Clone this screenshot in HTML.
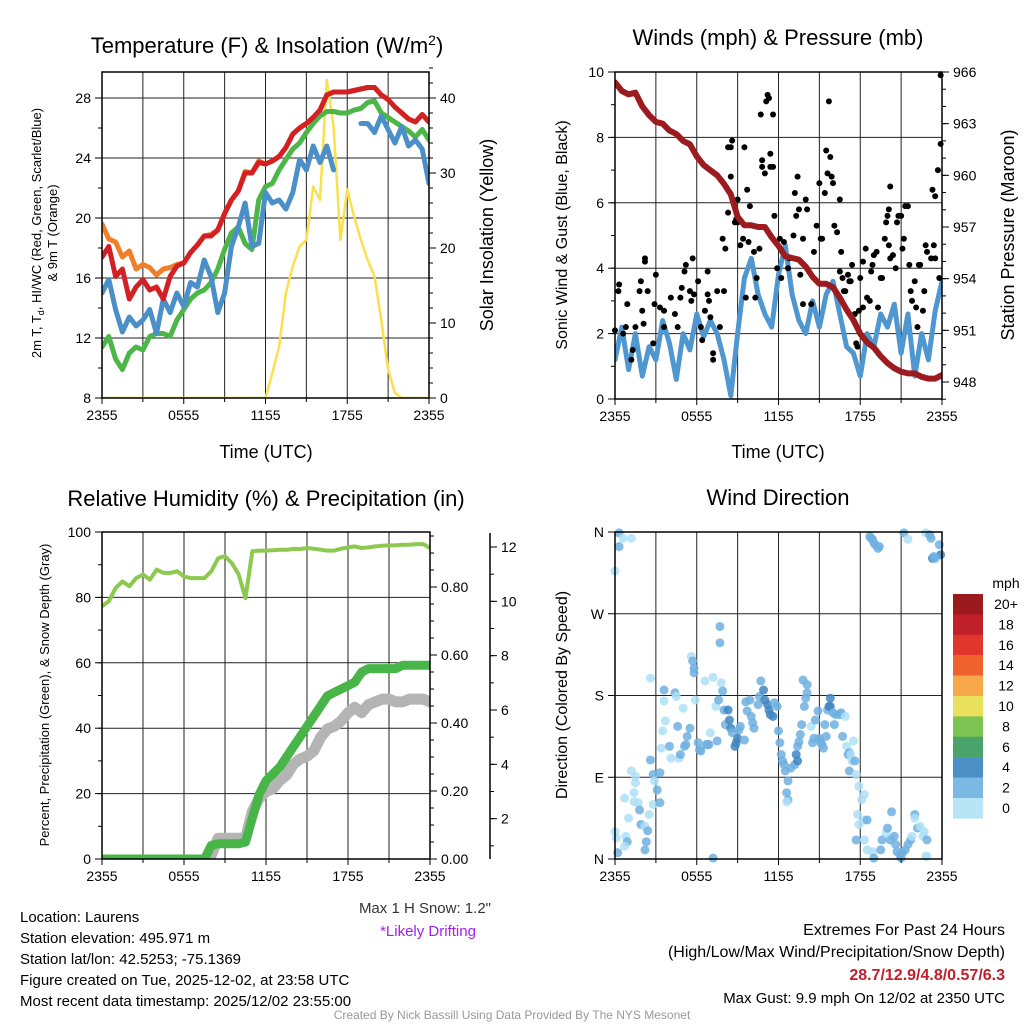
<!DOCTYPE html>
<html><head><meta charset="utf-8"><style>
html,body{margin:0;padding:0;background:#fff}
svg{display:block;font-family:"Liberation Sans",Arial,sans-serif}
</style></head><body>
<svg id="fig" width="1024" height="1024" viewBox="0 0 1024 1024" xmlns="http://www.w3.org/2000/svg">
<rect width="1024" height="1024" fill="#fff"/>
<text x="267" y="53" font-size="22" text-anchor="middle">Temperature (F) &amp; Insolation (W/m<tspan dy="-8" font-size="14">2</tspan><tspan dy="8">)</tspan></text>
<text x="778" y="45" font-size="22" text-anchor="middle">Winds (mph) &amp; Pressure (mb)</text>
<text x="266" y="506" font-size="22" text-anchor="middle">Relative Humidity (%) &amp; Precipitation (in)</text>
<text x="778" y="505" font-size="22" text-anchor="middle">Wind Direction</text>
<text x="266" y="458" font-size="18" text-anchor="middle">Time (UTC)</text>
<text x="778" y="458" font-size="18" text-anchor="middle">Time (UTC)</text>
<text transform="translate(41,233) rotate(-90)" font-size="13" text-anchor="middle">2m T, T<tspan dy="3" font-size="9">d</tspan><tspan dy="-3">, HI/WC (Red, Green, Scarlet/Blue)</tspan></text>
<text transform="translate(57,233) rotate(-90)" font-size="13" text-anchor="middle">&amp; 9m T (Orange)</text>
<text transform="translate(493,235) rotate(-90)" font-size="18" text-anchor="middle">Solar Insolation (Yellow)</text>
<text transform="translate(567,235) rotate(-90)" font-size="16" text-anchor="middle">Sonic Wind &amp; Gust (Blue, Black)</text>
<text transform="translate(1014,235) rotate(-90)" font-size="18" text-anchor="middle">Station Pressure (Maroon)</text>
<text transform="translate(49,695) rotate(-90)" font-size="13" text-anchor="middle">Percent, Precipitation (Green), &amp; Snow Depth (Gray)</text>
<text transform="translate(567,695) rotate(-90)" font-size="16" text-anchor="middle">Direction (Colored By Speed)</text>
<g font-size="15">
<text x="20" y="922">Location: Laurens</text>
<text x="20" y="943">Station elevation: 495.971 m</text>
<text x="20" y="964">Station lat/lon: 42.5253; -75.1369</text>
<text x="20" y="985">Figure created on Tue, 2025-12-02, at 23:58 UTC</text>
<text x="20" y="1006">Most recent data timestamp: 2025/12/02 23:55:00</text>
</g>
<text x="491" y="913" font-size="15" fill="#333" text-anchor="end">Max 1 H Snow: 1.2"</text>
<text x="428" y="936" font-size="15" fill="#a020f0" text-anchor="middle">*Likely Drifting</text>
<g font-size="16" text-anchor="end">
<text x="1005" y="935">Extremes For Past 24 Hours</text>
<text x="1005" y="957">(High/Low/Max Wind/Precipitation/Snow Depth)</text>
<text x="1005" y="980" font-weight="bold" fill="#c0202a">28.7/12.9/4.8/0.57/6.3</text>
<text x="1005" y="1003" font-size="15">Max Gust: 9.9 mph On 12/02 at 2350 UTC</text>
</g>
<text x="512" y="1019" font-size="12" fill="#999" text-anchor="middle">Created By Nick Bassill Using Data Provided By The NYS Mesonet</text>
</svg>
<script>
const timeTickHours = [0, 6, 12, 18, 24];
const timeTickLabels = ["2355", "0555", "1155", "1755", "2355"];
const halfHours = Array.from({length: 49}, (_, i) => i * 0.5);

const temp2m = [17.4,18.1,16.1,16.6,14.6,15.4,15.9,15.2,15.4,14.6,16.1,16.8,17.0,17.7,18.2,18.8,18.8,19.2,20.3,21.2,21.8,23.0,23.0,23.7,23.6,23.8,24.1,24.7,25.6,26.0,26.3,26.7,27.2,28.2,28.4,28.4,28.4,28.5,28.6,28.7,28.7,28.2,27.9,27.4,27.0,26.6,26.4,26.9,26.4];
const temp9m = [19.6,18.6,18.4,17.4,17.8,16.6,16.9,16.7,16.2,16.6,16.7,16.9,17.0,17.7,18.2,18.8,18.9,19.2,20.3,21.2,21.8,23.1,23.0,23.8,23.6,23.8,24.1,24.7,25.6,26.0,26.3,26.7,27.2,28.2,28.4,28.4,28.4,28.5,28.6,28.7,28.7,28.2,27.9,27.4,27.0,26.6,26.4,26.9,26.4];
const dewpoint = [11.4,12.1,10.6,9.9,11.0,11.4,11.2,12.1,12.3,12.3,12.1,13.2,13.9,14.6,15.0,15.2,15.7,16.6,17.9,19.0,19.4,18.3,17.9,21.2,22.1,22.3,23.2,23.9,24.6,25.0,25.7,26.3,26.8,27.1,27.1,27.0,27.0,27.2,27.3,27.7,27.8,27.0,26.7,26.4,26.1,25.8,25.4,25.9,25.2];
const windChill = [15.0,15.9,13.9,12.4,13.4,12.8,13.2,13.9,12.3,14.6,13.7,15.0,14.1,15.7,15.4,17.2,16.1,13.7,15.0,18.1,19.4,21.0,18.1,18.3,21.7,21.0,21.2,20.6,21.7,23.9,23.2,24.8,23.7,24.8,23.2,null,null,null,26.3,26.3,25.7,26.8,25.9,25.0,26.1,24.8,25.2,24.6,22.3];
const insolation = [0,0,0,0,0,0,0,0,0,0,0,0,0,0,0,0,0,0,0,0,0,0,0,0,0,3.3,6.9,14.0,17.6,20.2,21.1,28.2,26.4,42.4,36.2,21.1,27.8,24.2,21.1,18.4,16.2,10.4,3.8,0.7,0,0,0,0,0];

const windSpeed = [1.2,2.2,0.9,2.0,0.7,1.6,1.2,2.4,1.7,0.6,2.0,1.5,2.6,1.9,2.4,2.0,1.2,0.1,2.0,3.7,4.3,3.2,2.6,2.2,3.8,4.7,3.2,2.4,2.0,3.0,2.2,3.2,3.6,2.6,1.6,1.4,0.7,2.0,1.6,2.6,2.2,2.9,1.4,2.6,0.7,2.0,1.2,2.7,3.6];
const pressure = [965.4,964.9,964.7,964.8,964.0,963.5,963.1,963.0,962.6,962.4,962.0,961.8,961.1,960.6,960.3,960.0,959.5,958.9,957.6,957.1,957.1,957.0,957.0,956.4,955.9,955.3,955.2,955.1,954.7,954.1,953.7,953.7,953.5,952.9,952.2,951.6,950.8,950.3,950.0,949.5,949.1,948.8,948.6,948.5,948.5,948.3,948.2,948.2,948.4];
const gustHours = [0,0.25,0.3,0.6,0.9,0.8,1.3,1.2,1.5,1.8,1.9,2.2,2.2,2.1,2.0,2.4,2.8,2.9,3.0,3.3,3.6,3.6,4.1,4.4,4.6,4.8,4.9,5.1,5.2,5.5,5.6,5.7,5.8,6.1,6.3,6.4,6.6,6.8,6.9,6.8,7.0,7.2,7.2,7.5,7.7,7.9,8.0,8.1,8.3,8.3,8.5,8.6,8.5,8.8,8.9,9.0,9.0,9.2,9.4,9.5,9.6,9.7,9.8,9.9,10.2,10.3,10.4,10.6,10.7,10.8,10.8,11.0,11.1,11.2,11.3,11.4,11.4,11.6,11.6,11.7,11.9,12.1,12.2,12.4,12.7,12.8,13.1,13.2,13.3,13.4,13.5,13.6,13.8,13.8,14.0,14.1,14.4,14.6,14.8,15.0,15.1,15.2,15.4,15.5,15.6,15.7,15.8,15.9,16.0,16.1,16.3,16.5,16.6,16.5,16.7,16.8,16.9,17.1,17.2,17.3,17.4,17.6,17.7,17.8,17.9,18.0,18.2,18.2,18.4,18.5,18.7,18.8,18.9,19.0,19.2,19.3,19.5,19.6,19.8,19.9,20.0,20.1,20.2,20.1,20.2,20.4,20.6,20.7,20.8,21.0,21.1,21.2,21.3,21.5,21.6,21.7,21.8,22.0,22.1,22.2,22.3,22.4,22.6,22.7,22.8,22.9,23.2,23.3,23.4,23.5,23.5,23.7,23.8,23.9,23.9];
const gustSpeeds = [2.1,3.3,3.5,2.0,2.9,2.2,1.5,1.2,2.2,3.3,3.6,4.3,4.2,2.3,2.7,3.3,1.7,2.9,3.8,2.8,2.2,2.7,3.1,2.6,2.2,3.1,3.4,3.9,4.1,3.3,3.0,4.3,3.2,3.6,2.2,1.8,2.7,3.2,3.0,3.9,2.5,1.4,1.2,3.3,2.2,4.9,3.3,4.6,5.7,7.7,7.7,7.9,6.8,5.4,5.5,6.1,5.4,4.7,4.9,7.7,3.1,6.4,4.8,5.9,4.5,3.1,3.7,4.6,8.7,7.3,7.1,6.9,9.1,9.3,9.2,7.5,7.1,7.1,8.7,5.6,4.0,4.9,3.7,4.8,4.0,4.3,5.0,6.3,5.6,6.8,5.8,3.8,2.9,4.9,6.1,5.8,2.9,4.5,5.3,6.6,4.9,4.9,6.3,7.6,6.9,9.1,7.4,6.8,6.6,5.3,5.1,6.1,4.5,3.9,3.7,3.3,3.3,3.8,3.6,3.6,4.1,2.6,1.7,1.6,2.7,3.7,2.8,4.2,4.6,3.1,3.0,3.9,4.1,4.4,4.5,2.8,3.7,3.7,4.9,5.4,5.6,5.8,6.5,4.7,4.3,4.4,4.0,5.4,5.6,5.6,4.6,4.9,5.9,5.9,4.1,3.3,3.0,3.6,2.8,2.2,4.1,4.1,2.7,3.3,4.7,4.5,4.3,6.4,4.7,6.2,4.3,7.0,3.7,7.8,9.9];

const dirHours = [0,0.3,0.6,0.3,1.2,0,0.1,0.2,0.8,0.9,0.7,0.7,1.2,1.5,1.5,1.4,1.0,1.4,1.7,1.8,1.9,2.2,2.4,2.3,2.2,2.5,2.8,2.6,2.6,2.8,2.9,3.1,3.3,3.3,3.4,3.5,3.6,3.6,3.7,4.0,4.1,4.4,4.5,4.6,4.7,5.0,4.8,5.1,5.2,5.3,5.5,5.6,5.7,5.8,5.8,5.9,6.1,6.2,6.3,6.6,6.7,6.8,6.9,7.0,7.2,7.4,7.5,7.6,7.7,7.7,7.8,7.9,8.0,8.1,8.3,8.4,8.5,8.6,8.8,8.9,9.0,9.1,9.2,9.5,9.6,9.7,9.9,10.0,10.1,10.2,10.5,10.6,10.7,10.9,11.0,11.2,11.3,11.4,11.6,11.7,11.9,12.0,12.1,12.2,12.3,12.4,12.5,12.7,12.6,12.7,12.6,12.9,13.2,13.3,13.4,13.4,13.5,13.6,13.7,13.9,14.0,14.1,13.8,14.1,14.4,14.5,14.6,14.7,14.9,15.0,15.1,15.2,15.3,15.4,15.5,15.6,15.7,15.8,15.8,16.0,16.1,16.2,16.5,16.6,16.7,16.9,17.0,17.1,17.2,17.3,17.4,17.5,17.6,17.2,17.7,17.9,18.1,18.3,17.8,17.9,17.7,18.3,18.5,18.3,18.5,18.9,19.0,19.5,19.6,19.9,20.0,20.2,20.3,20.5,20.6,20.7,20.9,21.0,21.1,21.3,21.5,21.7,21.8,22.0,22.0,22.2,22.4,22.6,22.7,22.8,22.9,22.9,18.7,18.8,18.9,19.0,19.1,19.3,19.4,21.2,21.5,22.8,23.1,23.2,23.8,23.9,23.3,23.4,23.5,7.2];
const dirDegrees = [317,359,353,344,353,30,23,7,25,19,14,67,97,91,84,73,45,63,62,54,38,36,31,19,10,49,60,109,199,93,86,76,62,95,122,141,174,186,152,124,111,183,179,146,111,166,115,124,126,135,144,223,218,205,210,175,128,120,119,196,126,126,126,139,200,168,130,175,256,238,194,185,164,148,164,153,144,139,124,128,133,142,146,131,173,163,175,157,150,144,170,179,196,186,175,170,164,159,157,172,168,141,128,115,108,104,97,86,73,65,63,100,104,115,108,124,129,137,148,168,177,183,197,192,146,128,133,153,163,133,128,126,122,148,135,164,168,168,177,161,148,159,159,161,135,157,124,115,117,115,108,130,108,97,93,80,65,71,49,38,21,43,43,21,10,8,1,10,21,29,34,21,52,25,16,8,5,1,7,10,16,21,25,49,45,34,36,25,30,3,21,3,355,353,352,348,346,342,344,359,352,359,357,353,346,335,331,333,331,1];
const dirSpeeds = [1,3,1,3,1,1,1,3,1,3,1,1,1,1,1,1,1,1,1,3,3,1,3,3,3,1,1,3,1,3,1,3,3,3,1,1,1,3,1,3,1,3,1,3,1,1,3,3,3,3,3,1,3,3,3,1,3,3,3,1,3,3,3,1,1,1,3,3,3,3,1,3,3,3,5,5,5,3,5,5,5,3,3,3,3,3,3,3,3,3,3,3,3,5,5,5,5,5,5,3,3,3,3,3,3,3,3,3,3,3,1,3,3,5,5,3,3,3,3,3,3,3,3,3,1,3,3,3,3,3,3,3,3,3,3,3,5,5,5,3,3,3,3,3,3,1,1,3,3,1,1,1,3,3,1,1,1,1,1,1,3,1,3,1,1,1,3,3,3,1,3,3,3,3,3,3,3,3,3,3,3,3,1,3,1,3,1,1,1,1,3,1,3,3,3,3,3,3,3,3,1,1,3,3,3,5,5,3,3,3,1];

const relHumidity = [77.3,78.8,82.9,84.9,83.4,85.9,87.0,85.4,88.5,87.5,87.5,88.0,86.4,85.9,85.9,85.9,88.0,92.0,92.6,90.5,87.0,79.8,94.1,94.3,94.3,94.4,94.6,94.6,94.8,94.8,95.1,94.9,94.6,94.3,94.3,94.9,95.3,95.6,95.1,95.3,95.6,95.8,95.9,95.9,96.1,96.1,96.3,96.3,95.1];
const precipitation = [0,0,0,0,0,0,0,0,0,0,0,0,0,0,0,0,0.04,0.045,0.045,0.045,0.045,0.05,0.12,0.19,0.23,0.25,0.27,0.30,0.33,0.36,0.39,0.42,0.45,0.48,0.49,0.50,0.51,0.52,0.55,0.56,0.56,0.56,0.56,0.56,0.57,0.57,0.57,0.57,0.57];
const snowDepth = [0,0,0,0,0,0,0,0,0,0,0,0,0,0,0,0,0.66,1.28,1.28,1.28,1.28,1.28,2.26,2.75,3.0,3.1,3.4,3.6,4.0,4.2,4.3,4.5,5.0,5.3,5.4,5.6,5.9,6.1,5.9,6.2,6.3,6.4,6.4,6.3,6.3,6.4,6.4,6.4,6.3];

const tempTicks = [8,12,16,20,24,28];
const insolTicks = [0,10,20,30,40];
const windTicks = [0,2,4,6,8,10];
const pressTicks = [948,951,954,957,960,963,966];
const rhTicks = [0,20,40,60,80,100];
const precipTicks = [0,0.2,0.4,0.6,0.8];
const precipLabels = ["0.00","0.20","0.40","0.60","0.80"];
const snowTicks = [2,4,6,8,10,12];
const dirTicks = [0,90,180,270,360];
const dirLabels = ["N","E","S","W","N"];
const cbLabels = ["20+","18","16","14","12","10","8","6","4","2","0"];
const cbColors = ["#9b1a1e","#c0202a","#e0362c","#f0622c","#f7a84a","#e9e05c","#7dc352","#4aa36b","#4a90c7","#7bb8e3","#b8e4f7"];

const NS = "http://www.w3.org/2000/svg";
const svg = document.getElementById("fig");
function mk(tag, attrs, parent) {
  const el = document.createElementNS(NS, tag);
  for (const k in attrs) el.setAttribute(k, attrs[k]);
  (parent || svg).appendChild(el);
  return el;
}
function lin(d0, d1, r0, r1) { return v => r0 + (v - d0) * (r1 - r0) / (d1 - d0); }

function panel(id, x0, x1, y0, y1) {
  const g = mk("g", {});
  
  
  const cp = mk("clipPath", {id: id + "-clip"}, g);
  mk("rect", {x: x0, y: y0, width: x1 - x0, height: y1 - y0}, cp);
  return g;
}
function grid(g, name, xs, ys, x0, x1, y0, y1) {
  for (const h of [3,6,9,12,15,18,21]) {
    const l = mk("line", {x1: xs(h), x2: xs(h), y1: y0, y2: y1, stroke: "#222", "stroke-width": 1}, g);
    
    
  }
  for (const y of ys) {
    const l = mk("line", {x1: x0, x2: x1, y1: y, y2: y, stroke: "#222", "stroke-width": 1}, g);
    
    
  }
}
function frame(g, name, x0, x1, y0, y1) {
  const r = mk("rect", {x: x0, y: y0, width: x1 - x0, height: y1 - y0, fill: "none", stroke: "#000", "stroke-width": 1.5}, g);
  
  
}
function xTicks(g, name, xs, yb) {
  timeTickHours.forEach((h, i) => {
    mk("line", {x1: xs(h), x2: xs(h), y1: yb, y2: yb + 6, stroke: "#000"}, g);
    const t = mk("text", {x: xs(h), y: yb + 22, "font-size": 14, "text-anchor": "middle"}, g);
    t.textContent = timeTickLabels[i];
    
    
  });
  for (let h = 3; h < 24; h += 6) mk("line", {x1: xs(h), x2: xs(h), y1: yb, y2: yb + 4, stroke: "#000"}, g);
}
function yTicks(g, name, vals, labels, ys, x, side, minorStep, lo, hi) {
  const dir = side === "left" ? -1 : 1;
  vals.forEach((v, i) => {
    mk("line", {x1: x, x2: x + dir * 7, y1: ys(v), y2: ys(v), stroke: "#000"}, g);
    const t = mk("text", {x: x + dir * 11, y: ys(v) + 5, "font-size": 14, "text-anchor": side === "left" ? "end" : "start"}, g);
    t.textContent = labels[i];
    
    
  });
  if (minorStep) for (let v = lo; v <= hi + 1e-9; v += minorStep) mk("line", {x1: x, x2: x + dir * 4, y1: ys(v), y2: ys(v), stroke: "#000"}, g);
}
function path(g, clipId, hrs, vals, xs, ys, color, w, name) {
  let d = "", pen = false;
  hrs.forEach((h, i) => {
    const v = vals[i];
    if (v === null) { pen = false; return; }
    d += (pen ? "L" : "M") + xs(h).toFixed(1) + "," + ys(v).toFixed(1);
    pen = true;
  });
  const p = mk("path", {d: d, fill: "none", stroke: color, "stroke-width": w, "stroke-linejoin": "round", "stroke-linecap": "round", "clip-path": "url(#" + clipId + ")"}, g);
  
  
}

// Panel 1: temperature
{
  const x0 = 102, x1 = 429, y0 = 72, y1 = 398;
  const g = panel("temp", x0, x1, y0, y1);
  const xs = lin(0, 24, x0, x1), ys = lin(8, 28, 398, 98), yi = lin(0, 40, 398, 98);
  grid(g, "temp", xs, tempTicks.map(ys), x0, x1, y0, y1);
  path(g, "temp-clip", halfHours, insolation, xs, yi, "#f9e04f", 2.5, "insolation-line");
  path(g, "temp-clip", halfHours, temp9m, xs, ys, "#f07f2c", 5, "temp-9m-line");
  path(g, "temp-clip", halfHours, dewpoint, xs, ys, "#4cb648", 5, "dewpoint-line");
  path(g, "temp-clip", halfHours, windChill, xs, ys, "#4a8fc8", 5, "windchill-line");
  path(g, "temp-clip", halfHours, temp2m, xs, ys, "#d42025", 5, "temp-2m-line");
  frame(g, "temp", x0, x1, y0, y1);
  xTicks(g, "temp", xs, y1);
  yTicks(g, "temp-y", tempTicks, tempTicks.map(String), ys, x0, "left", 2, 8, 28);
  yTicks(g, "insolation-y", insolTicks, insolTicks.map(String), yi, x1, "right", 2, 0, 44);
}
// Panel 2: winds
{
  const x0 = 615, x1 = 942, y0 = 72, y1 = 399;
  const g = panel("wind", x0, x1, y0, y1);
  const xs = lin(0, 24, x0, x1), ys = lin(0, 10, 399, 72), yp = lin(948, 966, 382, 72);
  grid(g, "wind", xs, windTicks.map(ys), x0, x1, y0, y1);
  path(g, "wind-clip", halfHours, windSpeed, xs, ys, "#4f97d0", 5, "wind-speed-line");
  gustHours.forEach((h, i) => {
    const c = mk("circle", {cx: xs(h), cy: ys(gustSpeeds[i]), r: 3, fill: "#000"}, g);
    
    
  });
  path(g, "wind-clip", halfHours, pressure, xs, yp, "#9b1b1e", 6, "pressure-line");
  frame(g, "wind", x0, x1, y0, y1);
  xTicks(g, "wind", xs, y1);
  yTicks(g, "wind-y", windTicks, windTicks.map(String), ys, x0, "left", 1, 0, 10);
  yTicks(g, "pressure-y", pressTicks, pressTicks.map(String), yp, x1, "right", 1, 947, 966);
}
// Panel 3: humidity
{
  const x0 = 102, x1 = 430, y0 = 532, y1 = 859;
  const g = panel("rh", x0, x1, y0, y1);
  const xs = lin(0, 24, x0, x1), ys = lin(0, 100, 859, 532), yp = lin(0, 0.8, 859, 587), ysn = lin(0, 12, 873, 547);
  grid(g, "rh", xs, rhTicks.map(ys), x0, x1, y0, y1);
  path(g, "rh-clip", halfHours, relHumidity, xs, ys, "#8dc94f", 4, "humidity-line");
  path(g, "rh-clip", halfHours, snowDepth, xs, ysn, "#b4b4b4", 11, "snow-depth-line");
  path(g, "rh-clip", halfHours, precipitation, xs, yp, "#48b548", 9, "precipitation-line");
  frame(g, "rh", x0, x1, y0, y1);
  xTicks(g, "rh", xs, y1);
  yTicks(g, "rh-y", rhTicks, rhTicks.map(String), ys, x0, "left", 10, 0, 100);
  yTicks(g, "precip-y", precipTicks, precipLabels, yp, x1, "right", 0.05, 0, 0.95);
  const ax = mk("line", {x1: 490, x2: 490, y1: 533, y2: 859, stroke: "#000", "stroke-width": 1.5}, g);
  
  
  yTicks(g, "snow-y", snowTicks, snowTicks.map(String), ysn, 490, "right", 1, 1, 12);
}
// Panel 4: wind direction
{
  const x0 = 615, x1 = 942, y0 = 532, y1 = 859;
  const g = panel("dir", x0, x1, y0, y1);
  const xs = lin(0, 24, x0, x1), ys = lin(0, 360, 859, 532);
  grid(g, "dir", xs, dirTicks.map(ys), x0, x1, y0, y1);
  const spdColor = s => s >= 4 ? "#3f86c2" : (s >= 2 ? "#6fb0e0" : "#aedff6");
  dirHours.forEach((h, i) => {
    const c = mk("circle", {cx: xs(h), cy: ys(dirDegrees[i]), r: 4.5, fill: spdColor(dirSpeeds[i]), "fill-opacity": 0.85}, g);
    
    
  });
  frame(g, "dir", x0, x1, y0, y1);
  xTicks(g, "dir", xs, y1);
  yTicks(g, "dir-y", dirTicks, dirLabels, ys, x0, "left", 0, 0, 0);
  const t = mk("text", {x: 1006, y: 588, "font-size": 14, "text-anchor": "middle"});
  t.textContent = "mph";
  
  
  cbColors.forEach((c, i) => {
    const r = mk("rect", {x: 953, y: 594 + i * 20.4, width: 30, height: 20.6, fill: c});
    
    
    const l = mk("text", {x: 1006, y: 594 + i * 20.4 + 15, "font-size": 14, "text-anchor": "middle"});
    l.textContent = cbLabels[i];
    
    
  });
}
</script>
</body></html>
